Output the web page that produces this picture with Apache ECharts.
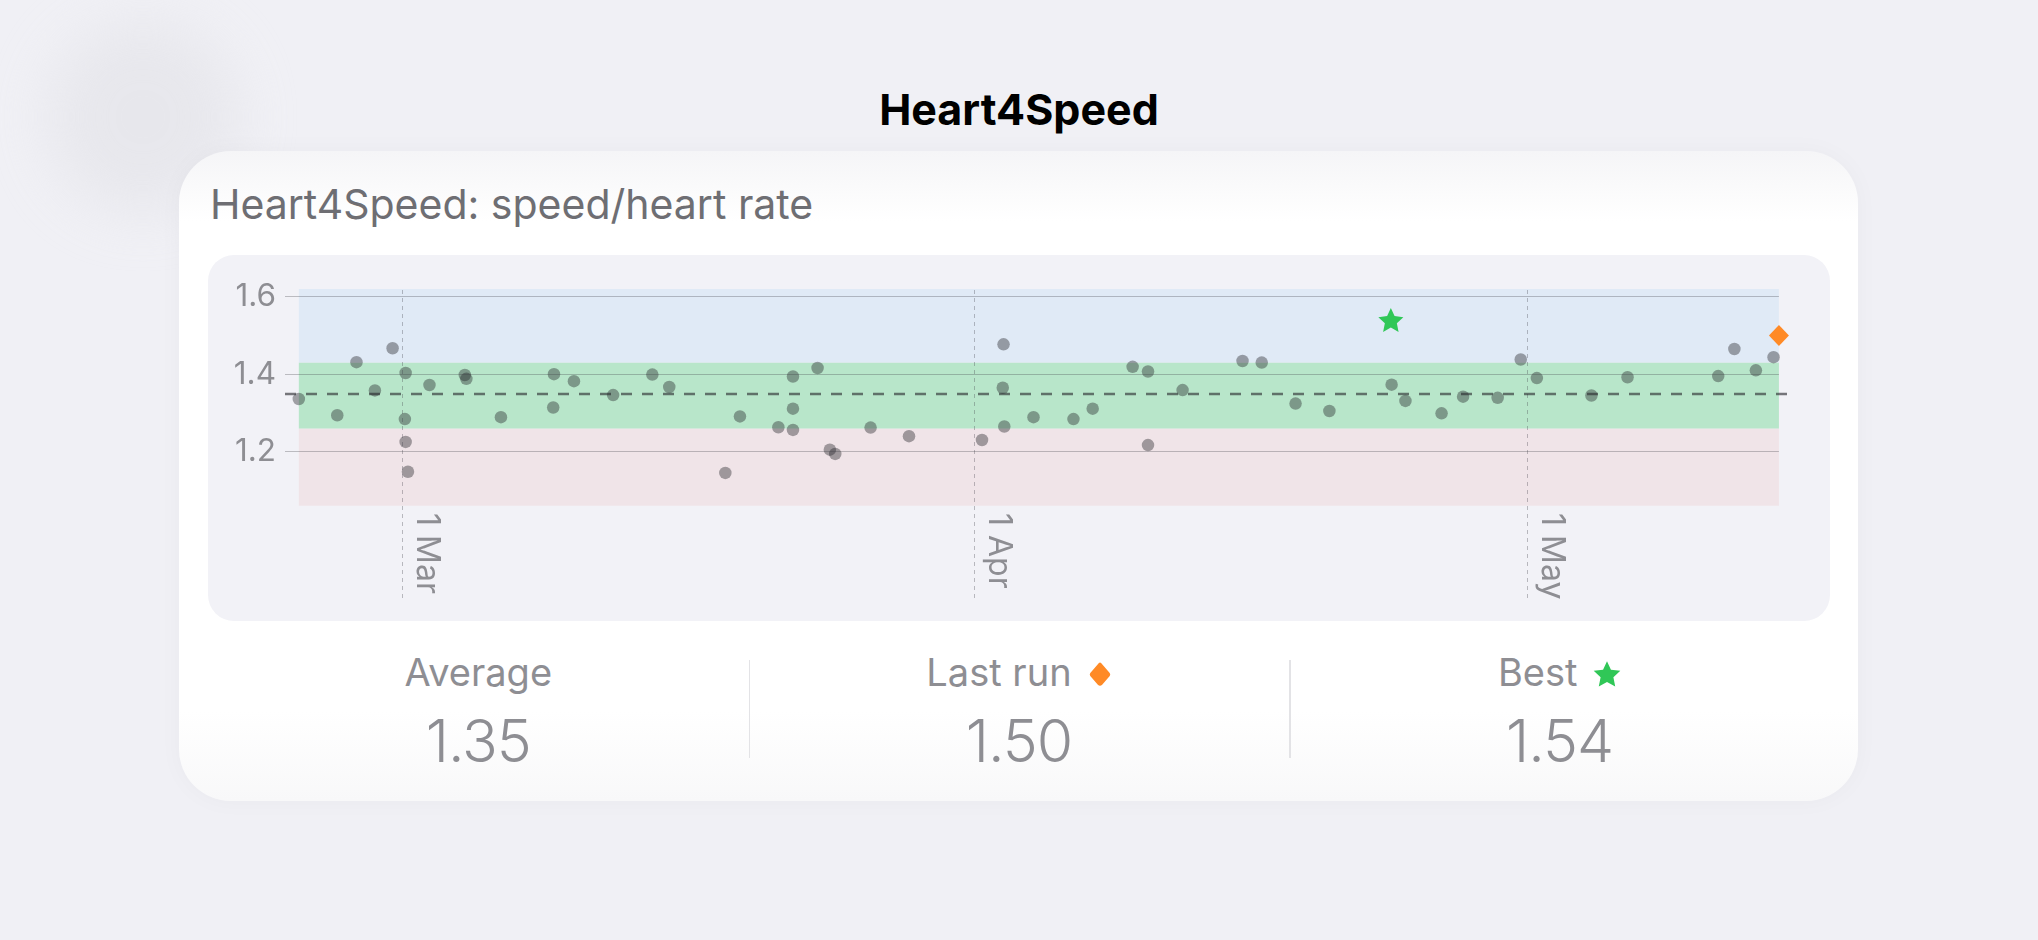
<!DOCTYPE html>
<html>
<head>
<meta charset="utf-8">
<script src="https://cdn.jsdelivr.net/npm/echarts@6/dist/echarts.min.js"></script>
<style>
  html, body {
    margin: 0;
    width: 2038px;
    height: 940px;
    overflow: hidden;
    background: #f0f0f5;
    font-family: Inter, "Noto Sans", sans-serif;
  }
  .blob {
    position: absolute;
    left: 48px;
    top: 22px;
    width: 190px;
    height: 190px;
    border-radius: 50%;
    background: #e4e4e9;
    filter: blur(28px);
    opacity: 0.7;
  }
  .page-title {
    position: absolute;
    left: 0;
    width: 2038px;
    top: 88px;
    text-align: center;
    font-size: 43px;
    line-height: 43px;
    font-weight: 700;
    color: #000;
  }
  .card {
    position: absolute;
    left: 179px;
    top: 151px;
    width: 1679px;
    height: 650px;
    border-radius: 52px;
    background: linear-gradient(180deg, #f5f5f7 0px, #ffffff 70px, #ffffff 560px, #f8f8f9 650px);
    box-shadow: 0 0 24px rgba(0, 0, 0, 0.03);
  }
  .card-sub {
    position: absolute;
    left: 210px;
    top: 184px;
    font-size: 41px;
    line-height: 41px;
    color: #6e6e73;
  }
  .chart-box {
    position: absolute;
    left: 208px;
    top: 255px;
    width: 1622px;
    height: 366px;
    border-radius: 26px;
    background: #f2f2f7;
    overflow: hidden;
  }
  .stat {
    position: absolute;
    top: 0;
    text-align: center;
    color: #8e8e93;
  }
  .stat-label {
    position: absolute;
    left: 0;
    right: 0;
    top: 653px;
    font-size: 38px;
    line-height: 38px;
  }
  .stat-label svg {
    margin-left: 16px;
    vertical-align: -2px;
  }
  .stat-value {
    position: absolute;
    left: 0;
    right: 0;
    top: 711px;
    font-size: 59px;
    line-height: 59px;
    font-weight: 300;
    letter-spacing: -1px;
  }
  .divider {
    position: absolute;
    top: 660px;
    width: 1.5px;
    height: 98px;
    background: #e3e3e6;
  }
</style>
</head>
<body>
<div class="blob"></div>
<div class="page-title">Heart4Speed</div>
<div class="card"></div>
<div class="card-sub">Heart4Speed: speed/heart rate</div>
<div id="chart" class="chart-box"></div>
<div id="stats"></div>

<script>
// runs (speed / heart rate)
const runDates = [
  '2024-02-24 09:00', '2024-02-26 11:00', '2024-02-27 12:00', '2024-02-28 12:00', '2024-02-29 11:00',
  '2024-03-01 04:00', '2024-03-01 03:00', '2024-03-01 04:00', '2024-03-01 07:00', '2024-03-02 11:00',
  '2024-03-04 09:00', '2024-03-04 11:00', '2024-03-06 08:00', '2024-03-09 05:00', '2024-03-09 04:00',
  '2024-03-10 07:00', '2024-03-12 10:00', '2024-03-14 13:00', '2024-03-15 11:00', '2024-03-18 12:00',
  '2024-03-19 07:00', '2024-03-21 09:00', '2024-03-22 04:00', '2024-03-22 04:00', '2024-03-22 04:00',
  '2024-03-23 12:00', '2024-03-24 04:00', '2024-03-24 11:00', '2024-03-26 09:00', '2024-03-28 11:00',
  '2024-04-01 10:00', '2024-04-02 14:00', '2024-04-02 13:00', '2024-04-02 15:00', '2024-04-04 05:00',
  '2024-04-06 09:00', '2024-04-07 10:00', '2024-04-09 14:00', '2024-04-10 10:00', '2024-04-10 10:00',
  '2024-04-12 07:00', '2024-04-15 13:00', '2024-04-16 14:00', '2024-04-18 10:00', '2024-04-20 06:00',
  '2024-04-23 15:00', '2024-04-24 09:00', '2024-04-26 08:00', '2024-04-27 12:00', '2024-04-29 09:00',
  '2024-04-30 15:00', '2024-05-01 12:00', '2024-05-04 11:00', '2024-05-06 10:00', '2024-05-11 08:00',
  '2024-05-12 05:00', '2024-05-13 09:00', '2024-05-14 08:00'
]
const runValues = [
  1.336, 1.294, 1.431, 1.358, 1.467,
  1.403, 1.284, 1.225, 1.148, 1.372,
  1.398, 1.388, 1.289, 1.400, 1.314,
  1.382, 1.346, 1.399, 1.367, 1.145,
  1.291, 1.263, 1.394, 1.311, 1.256,
  1.416, 1.205, 1.194, 1.262, 1.240,
  1.230, 1.477, 1.365, 1.265, 1.289,
  1.284, 1.311, 1.419, 1.407, 1.217,
  1.359, 1.434, 1.430, 1.324, 1.305,
  1.373, 1.331, 1.299, 1.342, 1.339,
  1.438, 1.390, 1.345, 1.392, 1.395,
  1.465, 1.410, 1.444
]
const bestRun = ['2024-04-23 14:00', 1.54]
const lastRun = ['2024-05-14 15:00', 1.50]
const averageValue = 1.346

// zone limits: low / normal / high
const zoneLimits = [1.06, 1.26, 1.43, 1.62]
const yTicks = [1.2, 1.4, 1.6]
const monthTicks = ['2024-03-01 00:00', '2024-04-01 00:00', '2024-05-01 00:00']
const axisStart = '2024-02-23 15:00'
const axisEnd = '2024-05-15 08:00'
const statLabels = ['Average', 'Last run', 'Best']

const MONTHS = ['Jan', 'Feb', 'Mar', 'Apr', 'May', 'Jun', 'Jul', 'Aug', 'Sep', 'Oct', 'Nov', 'Dec']
const toTime = (s) => new Date(s.replace(' ', 'T')).getTime()

const STAR_PATH = 'M50 0L64.11 30.58L97.55 34.55L72.83 57.42L79.39 90.45L50 74L20.61 90.45L27.17 57.42L2.45 34.55L35.89 30.58Z'
const GREEN = '#30c757'
const ORANGE = '#ff8a26'
const GREY_TEXT = '#8e8e93'
const zoneColors = ['#f0e4e8', '#b8e6ca', '#e0eaf6']

const runTimes = runDates.map(toTime)
const firstT = runTimes[0]
const lastT = toTime(lastRun[0])

// stats row under the chart
const statValues = [averageValue.toFixed(2), lastRun[1].toFixed(2), bestRun[1].toFixed(2)]
const statIcons = [
  '',
  `<svg width="24" height="27" viewBox="0 0 22 25"><path d="M11 1.5 Q12 1.5 13 3 L20 11 Q21 12.5 20 14 L13 22 Q11 24 9 22 L2 14 Q1 12.5 2 11 L9 3 Q10 1.5 11 1.5Z" fill="${ORANGE}"/></svg>`,
  `<svg width="28" height="27" viewBox="0 0 100 95"><path d="${STAR_PATH}" fill="${GREEN}"/></svg>`,
]
const colW = 1622 / 3
const statsEl = document.getElementById('stats')
statLabels.forEach((label, i) => {
  const col = document.createElement('div')
  col.className = 'stat'
  col.style.left = (208 + i * colW) + 'px'
  col.style.width = colW + 'px'
  col.innerHTML = `<div class="stat-label">${label}${statIcons[i]}</div><div class="stat-value">${statValues[i]}</div>`
  statsEl.appendChild(col)
  if (i > 0) {
    const d = document.createElement('div')
    d.className = 'divider'
    d.style.left = (208 + i * colW) + 'px'
    statsEl.appendChild(d)
  }
})

const chart = echarts.init(document.getElementById('chart'))

const zoneAreas = zoneColors.map((color, i) => [
  { coord: [firstT, zoneLimits[i]], itemStyle: { color } },
  { coord: [lastT, zoneLimits[i + 1]] },
])

chart.setOption({
  animation: false,
  textStyle: { fontFamily: 'Inter, "Noto Sans", sans-serif' },
  grid: { left: 77, right: 38, top: 34, bottom: 23 },
  xAxis: {
    // timestamps on a plain value axis so the month ticks can be placed exactly
    type: 'value',
    min: toTime(axisStart),
    max: toTime(axisEnd),
    axisLine: { show: false },
    axisTick: { show: false },
    splitLine: { show: false },
    axisLabel: {
      customValues: monthTicks.map(toTime),
      rotate: -90,
      margin: -85,
      verticalAlign: 'bottom',
      lineHeight: 48,
      fontSize: 32,
      color: GREY_TEXT,
      formatter: (v) => {
        const d = new Date(v)
        return d.getDate() + ' ' + MONTHS[d.getMonth()]
      },
    },
  },
  yAxis: {
    type: 'value',
    min: 0.822,
    max: 1.62,
    axisLine: { show: false },
    axisTick: { show: false },
    splitLine: { show: false },
    axisLabel: {
      customValues: yTicks,
      margin: 9,
      fontSize: 31.5,
      color: GREY_TEXT,
      formatter: (v) => v.toFixed(1),
    },
  },
  series: [
    {
      name: 'guides',
      type: 'scatter',
      data: [],
      z: 1,
      silent: true,
      markArea: {
        silent: true,
        data: zoneAreas,
      },
      markLine: {
        silent: true,
        symbol: 'none',
        label: { show: false },
        data: [
          ...yTicks.map((v) => [
            { coord: [toTime(axisStart), v], lineStyle: { color: 'rgba(60,60,67,0.3)', width: 1.2, type: 'solid' } },
            { coord: [lastT, v] },
          ]),
          ...monthTicks.map((t) => ({
            xAxis: toTime(t),
            lineStyle: { color: 'rgba(60,60,67,0.32)', width: 1, type: [4, 4] },
          })),
          {
            yAxis: averageValue,
            lineStyle: { color: 'rgba(40,40,45,0.62)', width: 2.4, type: [11, 10] },
          },
        ],
      },
    },
    {
      name: 'runs',
      type: 'scatter',
      z: 3,
      symbolSize: 12.5,
      itemStyle: { color: 'rgba(35,35,40,0.5)' },
      data: runTimes.map((t, i) => [t, runValues[i]]),
    },
    {
      name: 'best',
      type: 'scatter',
      z: 4,
      symbol: 'path://' + STAR_PATH,
      symbolSize: [25, 24],
      itemStyle: { color: GREEN, opacity: 1 },
      data: [[toTime(bestRun[0]), bestRun[1]]],
    },
    {
      name: 'last',
      type: 'scatter',
      z: 4,
      symbol: 'diamond',
      symbolSize: [20, 21],
      itemStyle: { color: ORANGE, opacity: 1 },
      data: [[lastT, lastRun[1]]],
    },
  ],
})
</script>
</body>
</html>
